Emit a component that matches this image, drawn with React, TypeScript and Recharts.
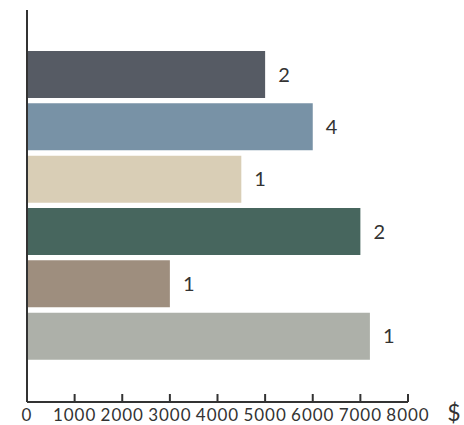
import React from 'react';
import { BarChart, Bar, XAxis, YAxis, Cell, LabelList, Label } from 'recharts';

const categories = ['A', 'B', 'C', 'D', 'E', 'F'];
const amounts = [5000, 6000, 4500, 7000, 3000, 7200];
const counts = [2, 4, 1, 2, 1, 1];
const colors = ['#565b64', '#7892a6', '#d9ceb6', '#47665e', '#9e8e7e', '#adb0a9'];
const xTicks = [0, 1000, 2000, 3000, 4000, 5000, 6000, 7000, 8000];

const data = categories.map((c, i) => ({ name: c, amount: amounts[i], count: counts[i] }));

const FONT = 'Lato, "Open Sans", sans-serif';

const XTick = (props: any) => {
  const { x, y, payload } = props;
  return (
    <g>
      <line x1={x} x2={x} y1={y} y2={y - 8} stroke="#333" strokeWidth={2} />
      <text x={x} y={y + 19} textAnchor="middle" fontSize={17} letterSpacing={1} fontFamily={FONT} fill="#333">
        {payload.value}
      </text>
    </g>
  );
};

const DollarLabel = (props: any) => {
  const { viewBox } = props;
  return (
    <text x={viewBox.x + viewBox.width + 46} y={viewBox.y + 19} textAnchor="middle" fontSize={23} fontFamily={FONT} fill="#333">
      $
    </text>
  );
};

export default function App() {
  return (
    <div style={{ position: 'absolute', left: 0, top: 0, width: 464, height: 425 }}>
      <BarChart
        width={464}
        height={425}
        data={data}
        layout="vertical"
        margin={{ top: 10, right: 56, bottom: 0, left: 17 }}
      >
        <XAxis
          type="number"
          dataKey="amount"
          domain={[0, 8000]}
          ticks={xTicks}
          interval={0}
          height={23}
          tickSize={0}
          tickMargin={0}
          tickLine={false}
          axisLine={{ stroke: '#333', strokeWidth: 2 }}
          tick={<XTick />}
        >
          <Label content={<DollarLabel />} />
        </XAxis>
        <YAxis
          type="category"
          dataKey="name"
          width={10}
          tick={false}
          tickLine={false}
          axisLine={{ stroke: '#333', strokeWidth: 2 }}
          padding={{ top: 38, bottom: 40 }}
        />
        <Bar dataKey="amount" barSize={47} isAnimationActive={false}>
          {data.map((d, i) => (
            <Cell key={d.name} fill={colors[i]} />
          ))}
          <LabelList dataKey="count" position="right" offset={13} fontSize={20} fontFamily={FONT} fill="#333" />
        </Bar>
      </BarChart>
    </div>
  );
}
